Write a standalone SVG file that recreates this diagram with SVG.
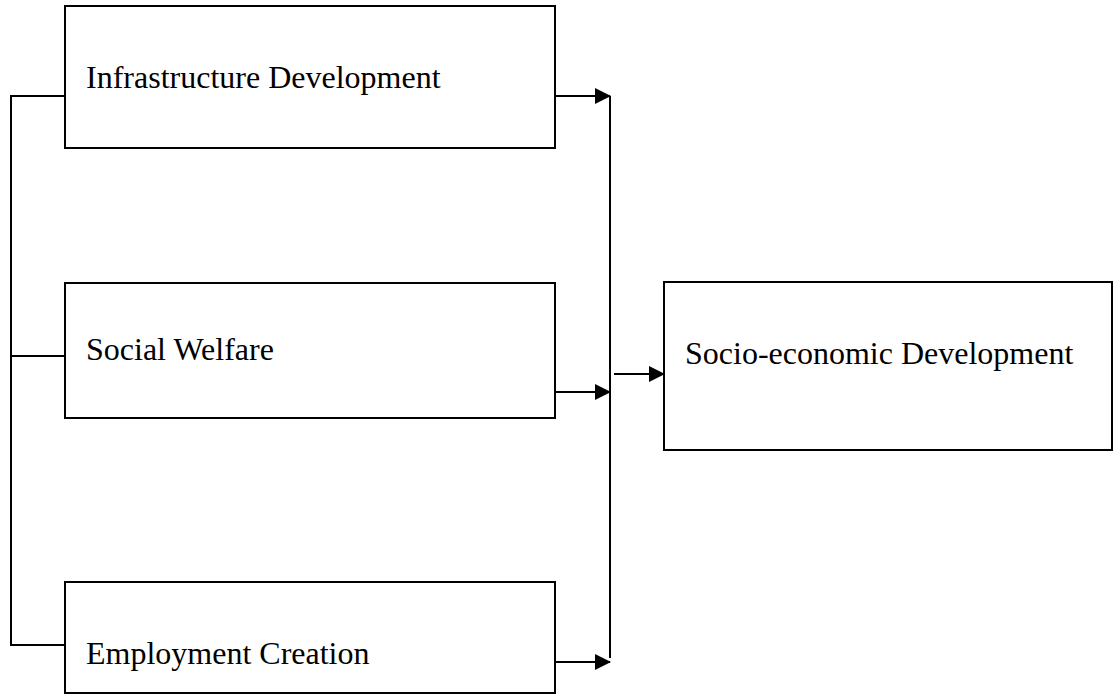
<svg xmlns="http://www.w3.org/2000/svg" width="1114" height="694" viewBox="0 0 1114 694">
<style>
.box{fill:#fff;stroke:#000;stroke-width:2}
.lbl{font-family:"Liberation Serif","Times New Roman",serif;font-size:32px;fill:#000}
.ln{fill:none;stroke:#000;stroke-width:2}
</style>
<defs>
<marker id="ah" markerUnits="userSpaceOnUse" markerWidth="16" markerHeight="16" viewBox="0 0 16 16" refX="15" refY="8" orient="auto">
<path d="M0,0 L16,8 L0,16 Z" fill="#000"/>
</marker>
</defs>
<g id="connectors">
<path class="ln" d="M65,96 H11 V645 H65"/>
<path class="ln" d="M11,356 H65"/>
<path class="ln" d="M610,96 V658"/>
<path class="ln" d="M555,96 H610" marker-end="url(#ah)"/>
<path class="ln" d="M555,392 H610" marker-end="url(#ah)"/>
<path class="ln" d="M555,662 H610" marker-end="url(#ah)"/>
<path class="ln" d="M614,374 H664" marker-end="url(#ah)"/>
</g>
<g id="infra">
<rect class="box" x="65" y="6" width="490" height="142"/>
<text class="lbl" x="86" y="88">Infrastructure Development</text>
</g>
<g id="social">
<rect class="box" x="65" y="283" width="490" height="135"/>
<text class="lbl" x="86" y="360">Social Welfare</text>
</g>
<g id="employment">
<rect class="box" x="65" y="582" width="490" height="111"/>
<text class="lbl" x="86" y="664">Employment Creation</text>
</g>
<g id="socio">
<rect class="box" x="664" y="282" width="448" height="168"/>
<text class="lbl" x="685" y="364">Socio-economic Development</text>
</g>
</svg>
